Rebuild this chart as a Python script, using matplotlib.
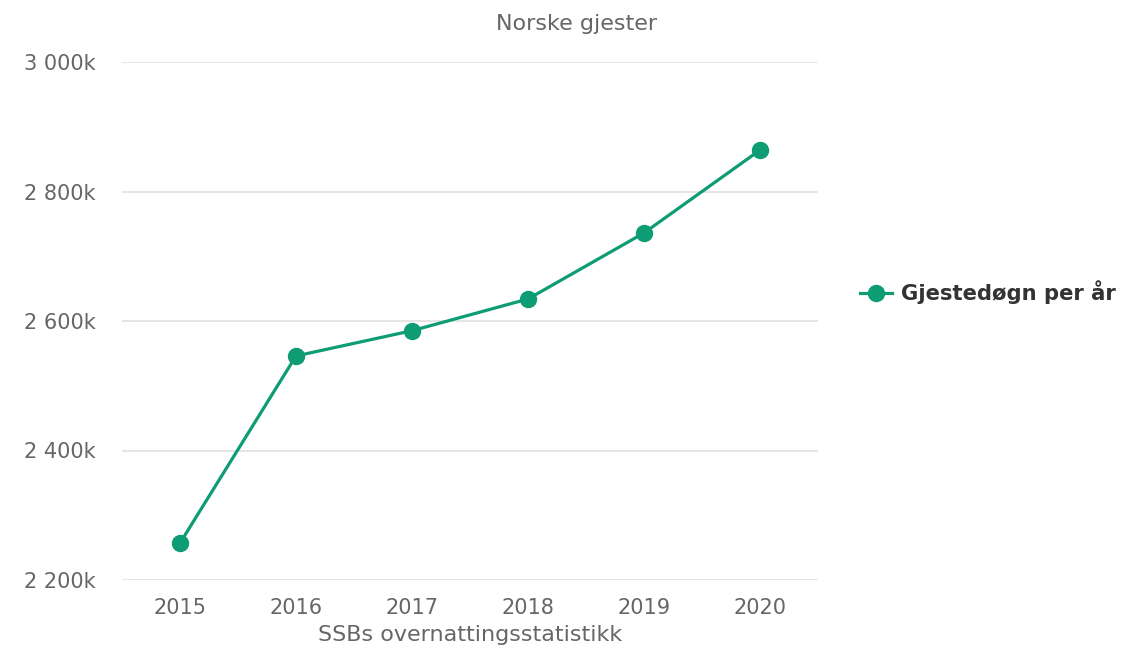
import matplotlib
matplotlib.use("Agg")
import matplotlib.pyplot as plt
from matplotlib.ticker import FuncFormatter

# data
years = [2015, 2016, 2017, 2018, 2019, 2020]
gjestedogn = [2257000, 2546000, 2585000, 2634000, 2736000, 2864000]
y_ticks = [2200000, 2400000, 2600000, 2800000, 3000000]

title = "Norske gjester"
x_title = "SSBs overnattingsstatistikk"
series_name = "Gjestedøgn per år"

green = "#0d9c74"
grey_text = "#666666"

plt.rcParams['font.family'] = ['DejaVu Sans']

fig = plt.figure(figsize=(11.22, 6.56), dpi=100)
ax = fig.add_axes([122 / 1122, 76 / 656, 696 / 1122, 518 / 656])

ax.plot(years, gjestedogn, color=green, linewidth=2.3, marker='o',
        markersize=11.5, label=series_name, clip_on=False, zorder=3)

ax.set_xlim(2014.5, 2020.5)
ax.set_ylim(2200000, 3000000)
ax.set_xticks(years)
ax.set_yticks(y_ticks)


def fmt_k(v, pos):
    return "{:,}k".format(int(round(v / 1000))).replace(",", " ")


ax.yaxis.set_major_formatter(FuncFormatter(fmt_k))
ax.grid(axis='y', color='#e3e3e3', linewidth=1.3)
ax.set_axisbelow(True)
for s in ax.spines.values():
    s.set_visible(False)
ax.tick_params(axis='y', length=0, pad=19, labelsize=15, labelcolor=grey_text)
ax.tick_params(axis='x', length=0, pad=13, labelsize=15, labelcolor=grey_text)

ax.set_xlabel(x_title, fontsize=16, color=grey_text, labelpad=5)
fig.text(577 / 1122, 1 - 24 / 656, title, ha='center', va='center',
         fontsize=16, color=grey_text)

leg = fig.legend(loc='center left', bbox_to_anchor=(841 / 1122, 1 - 292 / 656),
                 frameon=False, handlelength=1.5, handletextpad=0.45,
                 prop={'weight': 'bold', 'size': 15.2})
for t in leg.get_texts():
    t.set_color('#333333')

fig.savefig("out.png", dpi=100)
